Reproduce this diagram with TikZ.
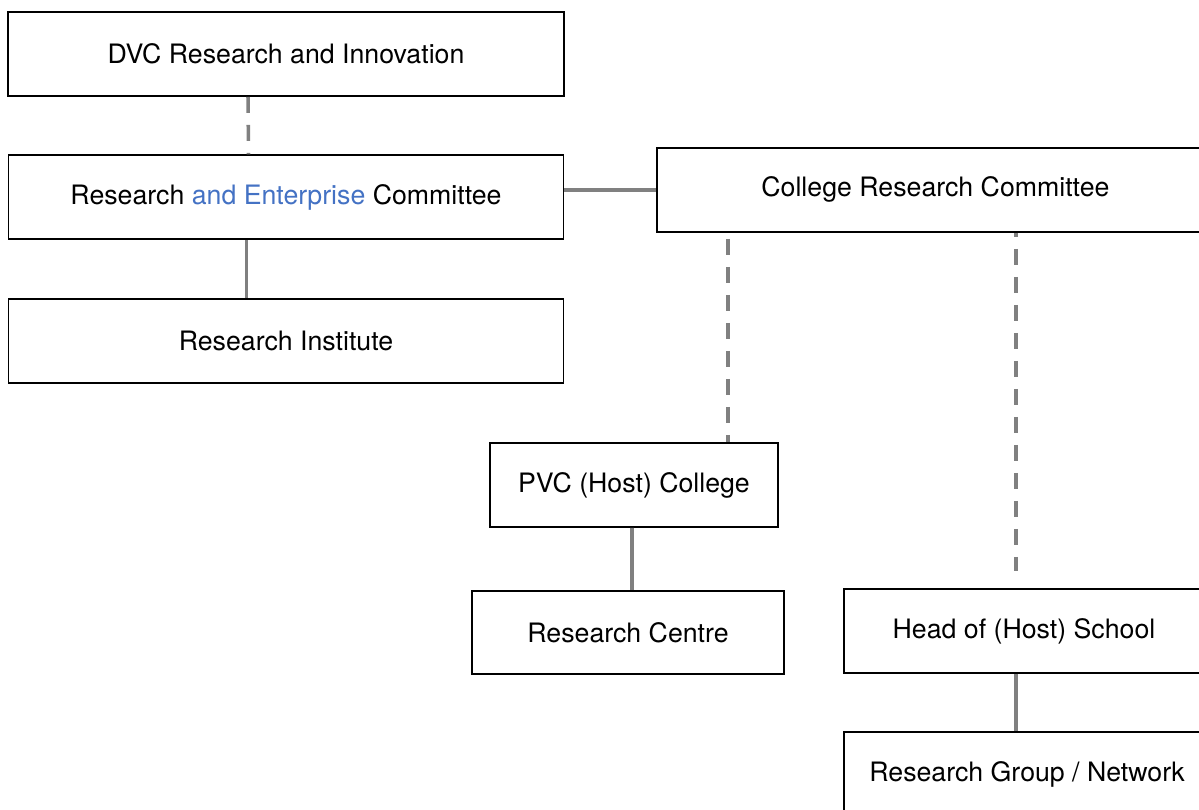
\documentclass[tikz,border=0pt]{standalone}
\usepackage{fontspec}
\setmainfont{TeX Gyre Heros}
\usepackage{tikz}
\usetikzlibrary{positioning}
\definecolor{LinkGray}{RGB}{128,128,128}
\definecolor{NoteBlue}{RGB}{68,114,196}
\tikzstyle{OrgBox}=[rectangle, draw=black, line width=1.1pt, fill=white, minimum height=1.68cm, inner sep=0pt, font=\fontsize{15.2}{18}\selectfont]
\tikzstyle{SolidLink}=[draw=LinkGray, line width=2pt]
\tikzstyle{DashLink}=[SolidLink, dash pattern=on 0.32cm off 0.24cm]

\begin{document}
\begin{tikzpicture}
      \useasboundingbox (0,0) rectangle (23.98,-16.2);
      \clip (0,0) rectangle (23.98,-16.2);
      \node[OrgBox, minimum width=11.12cm] (dvc) at (5.72,-1.08) {DVC Research and Innovation};
      \node[OrgBox, minimum width=11.10cm] (rec) [below=1.15cm of dvc] {Research \textcolor{NoteBlue}{and Enterprise} Committee};
      \node[OrgBox, minimum width=11.10cm] (ri) [below=1.16cm of rec] {Research Institute};
      \node[OrgBox, minimum width=11.12cm] (crc) [right=1.84cm of rec, yshift=0.15cm] {College Research Committee};
      \node[OrgBox, minimum width=5.76cm] (pvc) at (12.68,-9.70) {PVC (Host) College};
      \node[OrgBox, minimum width=6.24cm, minimum height=1.66cm] (rc) [below=1.24cm of pvc, xshift=-0.12cm] {Research Centre};
      \node[OrgBox, minimum width=7.20cm] (hos) at (20.48,-12.62) {Head of (Host) School};
      \node[OrgBox, minimum width=7.32cm] (rgn) [below=1.15cm of hos, xshift=0.06cm] {Research Group / Network};
      \coordinate (pvcTop) at ([xshift=1.88cm]pvc.north);
      \coordinate (hosTop) at ([xshift=-0.16cm, yshift=0.34cm]hos.north);
      \draw[DashLink] ([xshift=-0.76cm]dvc.south) -- ([xshift=-0.75cm]rec.north);
      \draw[SolidLink] ([xshift=-0.79cm]rec.south) -- ([xshift=-0.79cm]ri.north);
      \draw[SolidLink] (crc.west -| rec.east) -- (crc.west);
      \draw[DashLink, dash phase=0.44cm] (crc.south -| pvcTop) -- (pvcTop);
      \draw[DashLink, dash phase=0.24cm] (crc.south -| hosTop) -- (hosTop);
      \draw[SolidLink] ([xshift=-0.04cm]pvc.south) -- ([xshift=0.08cm]rc.north);
      \draw[SolidLink] ([xshift=-0.16cm]hos.south) -- ([xshift=-0.22cm]rgn.north);
    \end{tikzpicture}
\end{document}
